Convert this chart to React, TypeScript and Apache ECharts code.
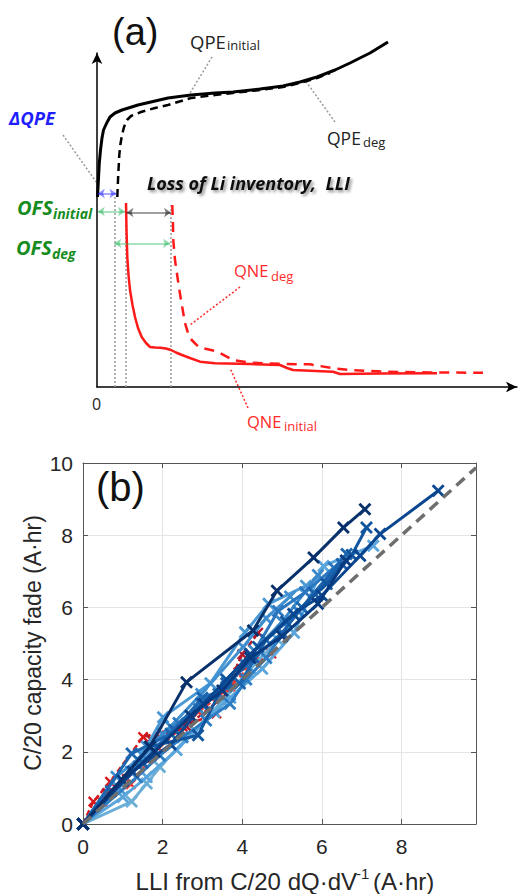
import React, { useEffect, useRef } from "react";
import * as echarts from "echarts";

// ---------- Panel (a): schematic (x: offset right of the y-axis, y: offset above the x-axis) ----------
const qpeInitial: number[][] = [
  [0.5, 190], [1.3, 205], [2.3, 224], [3.5, 237], [5, 249], [6.5, 257], [9.7, 264], [13, 270],
  [18, 274], [25, 277], [41, 282], [71, 289], [94, 292], [118, 294], [136, 295], [163, 298],
  [186, 301], [203, 305], [220, 310], [238, 317], [253, 324], [273, 334], [291, 345],
];
const qpeDeg: number[][] = [
  [20.3, 190], [21, 207], [21.5, 217], [22.3, 232], [23.3, 242], [25, 252], [27, 260], [30, 267],
  [34, 271], [44, 275], [58, 279], [71, 282], [94, 289], [118, 292], [136, 294], [163, 297],
  [186, 300], [203, 304], [220, 309], [233, 314],
];
const qneInitial: number[][] = [
  [29, 184], [29.5, 157], [30.3, 130], [31.5, 112], [33, 97], [35.5, 82], [38, 70], [41, 59],
  [44.7, 50], [49, 44], [53, 40], [58, 39.5], [63, 39.3], [69, 38.5], [74, 37], [79, 34.5],
  [85, 32], [93, 29], [103, 25.3], [118, 23.7], [153, 23], [183, 22], [190, 19], [196, 17],
  [236, 15.3], [243, 13], [283, 13.5], [340, 13.7],
];
const qneDeg: number[][] = [
  [75.3, 182], [76, 162], [76.3, 147], [78, 127], [81.3, 104], [84, 87], [88, 64], [91, 54],
  [94.7, 47], [101.3, 40.3], [106.3, 38.7], [118, 36], [123, 34], [136, 27], [153, 24.3],
  [186, 23], [213, 22.7], [236, 18.7], [253, 17], [286, 15.3], [333, 14.5], [386, 14.3],
];
// dotted vertical guides: [x, top y]
const guides: number[][] = [[18, 190], [29, 182], [74, 182]];
// double arrows: [x1, x2, y]
const blueArrow = [0.8, 19.5, 193.5];
const greenArrows: number[][] = [[0.8, 28, 175.5], [17.3, 73, 143.7]];
const blackArrow = [29.5, 74, 174.5];

// ---------- Panel (b): capacity fade vs LLI ----------
const xTicks = [0, 2, 4, 6, 8];
const yTicks = [0, 2, 4, 6, 8, 10];
const diag = [[0, 0], [9.87, 9.87]];

const redSeries: { color: string; pts: number[][] }[] = [
  { color: "#d7191c", pts: [[0, 0], [0.26, 0.62], [0.68, 1.17], [1.51, 2.41], [2.5, 2.7], [3.35, 3.06], [3.9, 4.2], [4.73, 4.72]] },
  { color: "#b2182b", pts: [[0, 0], [0.6, 0.85], [1.1, 1.25], [1.7, 2.35], [2.6, 2.7], [3.5, 3.5], [4.0, 4.7], [4.4, 5.3]] },
  { color: "#ef3b2c", pts: [[0, 0], [0.5, 0.6], [1.2, 1.1], [1.9, 2.1], [2.9, 3.1], [3.7, 3.8], [4.3, 4.5]] },
];
const blueSeries: { color: string; pts: number[][] }[] = [
  { color: "#6baed6", pts: [[0, 0], [1.22, 0.62], [1.6, 1.12], [1.93, 1.58], [2.8, 2.6], [3.5, 3.4], [4.2, 4.3], [4.9, 5.1]] },
  { color: "#5aa5dc", pts: [[0, 0], [1.0, 0.75], [1.6, 1.3], [2.35, 2.05], [3.3, 3.1], [3.7, 3.5], [4.5, 4.3], [5.3, 5.3], [6.04, 7.15], [7.29, 7.71]] },
  { color: "#4a98d4", pts: [[0, 0], [0.9, 1.0], [1.6, 2.15], [2.01, 2.96], [3.2, 3.9], [4.07, 5.31], [4.66, 6.1], [5.6, 6.6]] },
  { color: "#3f8fd0", pts: [[0, 0], [0.84, 1.31], [1.5, 1.9], [2.2, 2.7], [2.97, 3.6], [4.02, 4.9], [4.6, 5.7], [5.2, 6.3]] },
  { color: "#3987cb", pts: [[0, 0], [1.2, 1.45], [2.0, 2.5], [2.9, 3.2], [3.6, 3.8], [4.3, 4.8], [5.0, 5.6], [5.9, 6.9]] },
  { color: "#2d7dc4", pts: [[0, 0], [1.35, 1.3], [1.93, 1.9], [2.5, 2.4], [3.09, 2.87], [3.69, 3.33], [4.1, 4.0], [4.6, 4.6], [5.4, 5.9]] },
  { color: "#2a76bf", pts: [[0, 0], [1.4, 1.6], [2.4, 2.8], [3.4, 3.6], [4.1, 4.4], [4.9, 5.9], [5.58, 6.42], [6.3, 7.1]] },
  { color: "#1c66b0", pts: [[0, 0], [1.22, 1.95], [2.2, 2.5], [3.0, 3.5], [3.94, 3.89], [4.6, 5.1], [5.5, 6.0], [6.62, 7.48]] },
  { color: "#1a62ad", pts: [[0, 0], [0.7, 0.9], [1.5, 1.7], [2.3, 2.6], [2.97, 3.33], [3.6, 3.9], [4.3, 4.6], [5.0, 5.3], [5.8, 6.4], [6.5, 7.2]] },
  { color: "#11559e", pts: [[0, 0], [1.68, 2.14], [2.89, 2.46], [3.6, 4.0], [4.4, 4.9], [5.1, 5.6], [6.12, 6.65], [6.75, 7.45], [7.12, 8.21]] },
  { color: "#0b4790", pts: [[0, 0], [1.25, 1.45], [2.2, 2.2], [3.03, 3.33], [4.2, 4.7], [5.28, 5.82], [6.0, 6.33], [6.96, 7.43], [7.46, 8.03], [8.92, 9.23]] },
  { color: "#083a80", pts: [[0, 0], [1.0, 1.2], [1.8, 2.0], [2.7, 3.0], [3.5, 3.7], [4.2, 4.6], [5.0, 5.2], [5.9, 6.1], [6.6, 7.3]] },
  { color: "#08306b", pts: [[0, 0], [1.68, 2.14], [2.6, 3.93], [4.27, 5.36], [4.87, 6.46], [5.79, 7.38], [6.54, 8.21], [7.08, 8.72]] },
];

const XSYM = "path://M0,2L2,0L6.5,4.5L11,0L13,2L8.5,6.5L13,11L11,13L6.5,8.5L2,13L0,11L4.5,6.5Z";
const ARIAL = '"Liberation Sans", Arial, sans-serif';
const OPEN = '"Open Sans", sans-serif';

function txt(text: string, x: number, y: number, font: string, fill: string, extra: any = {}) {
  return {
    type: "text",
    x,
    y,
    silent: true,
    style: { text, font, fill, align: "left", verticalAlign: "middle", textAlign: "left", textVerticalAlign: "middle", ...extra },
  };
}
function leader(x1: number, y1: number, x2: number, y2: number, color: string) {
  return {
    type: "line",
    silent: true,
    shape: { x1, y1, x2, y2 },
    style: { stroke: color, lineWidth: 1.5, lineDash: [2, 2] },
  };
}

export default function App() {
  const ref = useRef<HTMLDivElement>(null);
  useEffect(() => {
    const chart = echarts.init(ref.current!, null, { renderer: "svg" });

    const aSeries: any[] = [
      ...guides.map((g) => ({
        type: "line", xAxisIndex: 0, yAxisIndex: 0, data: [[g[0], 0], [g[0], g[1]]], symbol: "none",
        lineStyle: { color: "#9a9a9a", width: 1.5, type: [2, 2] }, z: 1,
      })),
      { type: "line", xAxisIndex: 0, yAxisIndex: 0, data: qpeDeg, symbol: "none", clip: false,
        lineStyle: { color: "#000", width: 2.5, type: [8, 5] }, z: 3 },
      { type: "line", xAxisIndex: 0, yAxisIndex: 0, data: qpeInitial, symbol: "none", clip: false,
        lineStyle: { color: "#000", width: 3 }, z: 4 },
      { type: "line", xAxisIndex: 0, yAxisIndex: 0, data: qneDeg, symbol: "none", clip: false,
        lineStyle: { color: "#ff1a1a", width: 2.5, type: [10, 7] }, z: 3 },
      { type: "line", xAxisIndex: 0, yAxisIndex: 0, data: qneInitial, symbol: "none", clip: false,
        lineStyle: { color: "#ff1a1a", width: 2.5 }, z: 4 },
      { type: "lines", coordinateSystem: "cartesian2d", xAxisIndex: 0, yAxisIndex: 0,
        symbol: ["arrow", "arrow"], symbolSize: 7,
        data: [{ coords: [[blueArrow[0], blueArrow[2]], [blueArrow[1], blueArrow[2]]] }],
        lineStyle: { color: "#1a1aff", width: 1.5 }, itemStyle: { color: "#1a1aff" }, z: 5 },
      { type: "lines", coordinateSystem: "cartesian2d", xAxisIndex: 0, yAxisIndex: 0,
        symbol: ["arrow", "arrow"], symbolSize: 7,
        data: greenArrows.map((g) => ({ coords: [[g[0], g[2]], [g[1], g[2]]] })),
        lineStyle: { color: "#1fb35a", width: 1.5 }, itemStyle: { color: "#1fb35a" }, z: 5 },
      { type: "lines", coordinateSystem: "cartesian2d", xAxisIndex: 0, yAxisIndex: 0,
        symbol: ["arrow", "arrow"], symbolSize: 7,
        data: [{ coords: [[blackArrow[0], blackArrow[2]], [blackArrow[1], blackArrow[2]]] }],
        lineStyle: { color: "#000", width: 1.5 }, itemStyle: { color: "#000" }, z: 5 },
    ];

    const mk = (s: { color: string; pts: number[][] }, red: boolean, z: number) => ({
      type: "line", xAxisIndex: 1, yAxisIndex: 1, data: s.pts, symbol: XSYM, symbolSize: red ? 11 : 13,
      showSymbol: true,
      lineStyle: { color: s.color, width: red ? 2.5 : 3, type: red ? [6, 3] : "solid" },
      itemStyle: { color: s.color }, z,
    });
    const bSeries: any[] = [
      ...redSeries.map((s) => mk(s, true, 2)),
      ...blueSeries.map((s, i) => mk(s, false, 3 + i * 0.01)),
      { type: "line", xAxisIndex: 1, yAxisIndex: 1, data: diag, symbol: "none",
        lineStyle: { color: "#6e6e6e", width: 3.5, type: [11, 7] }, z: 4 },
    ];

    const bAxisCommon = {
      type: "value", gridIndex: 1, interval: 2,
      axisLine: { show: true, onZero: false, lineStyle: { color: "#555", width: 1 } },
      axisTick: { show: true, inside: true, length: 5, lineStyle: { color: "#555" } },
    };
    const fmt = (v: number) => (Math.abs(v / 2 - Math.round(v / 2)) < 1e-9 ? String(v) : "");

    chart.setOption({
      animation: false,
      backgroundColor: "#fff",
      grid: [
        { left: 97, top: 53, width: 420, height: 334 },
        { left: 83, top: 463, width: 393, height: 361, show: false },
      ],
      xAxis: [
        { type: "value", gridIndex: 0, min: 0, max: 420,
          axisLine: { show: true, symbol: ["none", "arrow"], symbolSize: [8, 11], lineStyle: { color: "#000", width: 1.5 } },
          axisTick: { show: false }, axisLabel: { show: false }, splitLine: { show: false } },
        { ...bAxisCommon, min: 0, max: 9.87, position: "bottom",
          axisLabel: { show: true, fontSize: 21, color: "#262626", fontFamily: ARIAL, margin: 12, formatter: fmt },
          splitLine: { show: true, lineStyle: { color: "#e4e4e4", width: 1 } } },
        { ...bAxisCommon, min: 0, max: 9.87, position: "top",
          axisLabel: { show: false }, splitLine: { show: false } },
      ],
      yAxis: [
        { type: "value", gridIndex: 0, min: 0, max: 334,
          axisLine: { show: true, symbol: ["none", "arrow"], symbolSize: [8, 11], lineStyle: { color: "#000", width: 1.5 } },
          axisTick: { show: false }, axisLabel: { show: false }, splitLine: { show: false } },
        { ...bAxisCommon, min: 0, max: 10, position: "left",
          axisLabel: { show: true, fontSize: 21, color: "#262626", fontFamily: ARIAL, margin: 10, formatter: fmt },
          splitLine: { show: true, lineStyle: { color: "#e4e4e4", width: 1 } } },
        { ...bAxisCommon, min: 0, max: 10, position: "right",
          axisLabel: { show: false }, splitLine: { show: false } },
      ],
      series: [...aSeries, ...bSeries],
      graphic: [
        // panel (a) labels
        txt("(a)", 112, 32, `38px ${ARIAL}`, "#111"),
        txt("QPE", 190, 41, `18.5px ${OPEN}`, "#222"),
        txt("initial", 227, 45, `13px ${OPEN}`, "#222"),
        txt("QPE", 327, 138, `17.5px ${OPEN}`, "#222"),
        txt("deg", 363, 142, `13px ${OPEN}`, "#222"),
        txt("\u0394QPE", 9, 117, `italic bold 18.5px ${OPEN}`, "#1f1fff"),
        txt("Loss of Li inventory,  LLI", 147, 183, `italic bold 18px ${OPEN}`, "#111",
          { textShadowColor: "rgba(0,0,0,0.45)", textShadowBlur: 3, textShadowOffsetX: 2, textShadowOffsetY: 2 }),
        txt("OFS", 17, 207, `italic bold 20px ${OPEN}`, "#168c1e"),
        txt("initial", 53, 213, `italic bold 14px ${OPEN}`, "#168c1e"),
        txt("OFS", 16, 247, `italic bold 20px ${OPEN}`, "#168c1e"),
        txt("deg", 52, 253, `italic bold 14px ${OPEN}`, "#168c1e"),
        txt("QNE", 234, 270, `16.5px ${OPEN}`, "#ff2a2a"),
        txt("deg", 271, 276, `13px ${OPEN}`, "#ff2a2a"),
        txt("QNE", 247, 421, `16.5px ${OPEN}`, "#ff2a2a"),
        txt("initial", 284, 426, `13px ${OPEN}`, "#ff2a2a"),
        txt("0", 92, 404, `16px ${OPEN}`, "#222"),
        leader(63, 135, 97, 183, "#999"),
        leader(212, 57, 187, 98, "#999"),
        leader(335, 122, 305, 80, "#999"),
        leader(240, 287, 190, 325, "#ff2a2a"),
        leader(248, 408, 230, 368, "#ff2a2a"),
        // panel (b) labels
        txt("(b)", 96, 487, `40px ${ARIAL}`, "#111"),
        {
          type: "text", x: 33, y: 643, rotation: Math.PI / 2, silent: true,
          style: { text: "C/20 capacity fade (A\u00b7hr)", font: `23px ${ARIAL}`, fill: "#262626",
            align: "center", verticalAlign: "middle", textAlign: "center", textVerticalAlign: "middle" },
        },
        {
          type: "text", x: 357, y: 881, silent: true,
          style: { text: "LLI from C/20 dQ\u00b7dV", font: `24px ${ARIAL}`, fill: "#262626",
            align: "right", verticalAlign: "middle", textAlign: "right", textVerticalAlign: "middle" },
        },
        txt("-1", 356, 873, `15px ${ARIAL}`, "#262626"),
        txt("(A\u00b7hr)", 373, 881, `24px ${ARIAL}`, "#262626"),
      ],
    });
    return () => chart.dispose();
  }, []);
  return (
    <div
      ref={ref}
      style={{ position: "absolute", left: 0, top: 0, width: 518, height: 894, background: "#fff" }}
    />
  );
}
